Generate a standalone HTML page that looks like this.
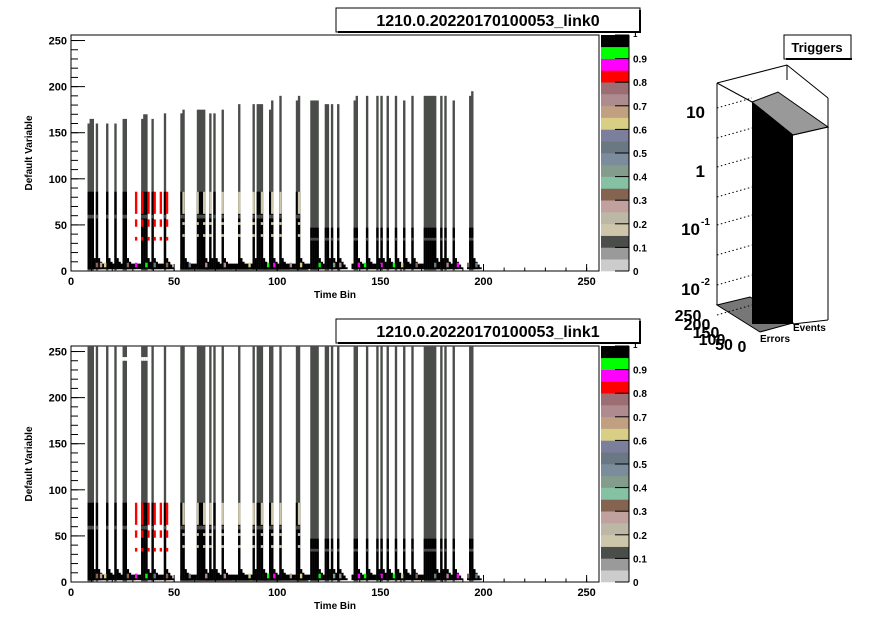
<!DOCTYPE html>
<html><head><meta charset="utf-8"><style>
body{margin:0;background:#fff;font-family:"Liberation Sans",Arial,sans-serif}
svg{display:block}
text{font-family:"Liberation Sans",Arial,sans-serif;font-weight:bold}
</style></head><body>
<svg id="c" width="896" height="622" viewBox="0 0 896 622"></svg>
<script>
// ----- data -----
const colBins=[8,9,10,12,17,21,25,26,34,35,36,39,45,53,54,61,62,63,64,67,69,73,81,88,90,91,92,96,97,101,109,110,116,117,118,119,123,124,126,129,137,138,143,148,150,153,157,161,165,171,172,173,174,175,176,179,181,185,193,194];
const colHeights=[160,165,165,160,160,160,165,165,165,170,170,165,171,171,175,175,175,175,175,171,171,175,181,181,181,181,181,175,185,190,185,190,185,185,185,185,181,181,181,181,185,190,190,190,190,190,190,185,190,190,190,190,190,190,190,190,190,185,190,195];
const redBins=[31,34,37,40,43,46];
const beigeBins=[54,61,64,67,73,81,88,92,97,101,110];
const lowColorBins=[12,14,16,27,31,36,40,46,57,65,74,86,95,98,106,111,120,127,130,139,142,150,156,160,167,176,182,187,192,196];
const lowColorVals=[0.3,0.25,0.6,0.3,0.85,0.9,0.5,0.3,0.5,0.7,0.7,0.6,0.9,0.85,0.7,0.6,0.9,0.4,0.7,0.85,0.9,0.85,0.9,0.6,0.3,0.5,0.7,0.85,0.3,0.5];
const stairHeights=[14,10,7,4];
const paletteTicks=["0","0.1","0.2","0.3","0.4","0.5","0.6","0.7","0.8","0.9","1"];
const xTicks=[0,50,100,150,200,250];
const yTicks=[0,50,100,150,200,250];
const palette=["#cccccc","#9a9a9a","#4a4d4a","#cdc6ab","#bdb8a6","#c0a19e","#846450","#84c2a3","#849c8b","#7b8c9c","#6a7883","#7b7f9c","#d8cf85","#c0a080","#ad8b8f","#9c6e73","#ff0000","#ff00ff","#00ff00","#000000"];
const trigLabels=["10","1","10","10"];
const trigExp=["","","-1","-2"];

const NS="http://www.w3.org/2000/svg";
const svg=document.getElementById('c');
function el(t,a,p){const e=document.createElementNS(NS,t);for(const k in a)e.setAttribute(k,a[k]);(p||svg).appendChild(e);return e;}
function colorOf(v){return palette[Math.min(19,Math.floor(v*20))];}

function drawPlot(top,full,name,title){
  const x0=71,x1=599,yb=top+236,yt=top;
  const g=el('g',{});
  
  
  const X=b=>x0+b*(x1-x0)/256;
  const Y=v=>yb-v*(yb-yt)/256;
  const bw=(x1-x0)/256;
  function cell(b,v0,v1,c){el('rect',{x:X(b),y:Y(v1),width:bw+0.3,height:Y(v0)-Y(v1),fill:c},g);}
  el('rect',{x:x0,y:yt,width:x1-x0,height:yb-yt,fill:'#fff',stroke:'#000'},g);
  // base strips
  for(let b=8;b<196;b++){ if((b>47&&b<53)||(b>130&&b<136)||(b>187&&b<192)) continue; cell(b,2,8,'#000'); }
  for(let b=53;b<115;b++) cell(b,0,2,'#4a4d4a');
  colBins.forEach((b,i)=>{
    stairHeights.forEach((h,k)=>cell(b+k+1,2,h,'#000'));
  });
  colBins.forEach((b,i)=>{
    const h=full?256:colHeights[i];
    const midTop=b<113?86:47;
    cell(b,0,h,'#4a4d4a');
    cell(b,2,midTop,'#000');
    if(b<113){cell(b,57,61,'#4a4d4a');}else{cell(b,33,36,'#4a4d4a');}
    if(beigeBins.includes(b)){cell(b,62,86,'#cdc6ab');cell(b,37,40,'#cdc6ab');cell(b,50,53,'#cdc6ab');}
    if(full&&b>=25&&b<=36){cell(b,240,244,'#fff');}
  });
  redBins.forEach(b=>{cell(b,62,86,'#ff0000');cell(b,48,56,'#ff0000');cell(b,33,37,'#ff0000');});
  lowColorBins.forEach((b,i)=>cell(b,4,9,colorOf(lowColorVals[i])));
  // axes ticks
  xTicks.forEach(t=>{el('line',{x1:X(t),x2:X(t),y1:yb,y2:yb-7,stroke:'#000'},g);
    const tx=el('text',{x:X(t),y:yb+14,'font-size':11,'text-anchor':'middle'},g);tx.textContent=t;});
  for(let t=0;t<=256;t+=10){el('line',{x1:X(t),x2:X(t),y1:yb,y2:yb-3.5,stroke:'#000'},g);}
  yTicks.forEach(t=>{el('line',{x1:x0,x2:x0+14,y1:Y(t),y2:Y(t),stroke:'#000'},g);
    const tx=el('text',{x:x0-4,y:Y(t)+4,'font-size':11,'text-anchor':'end'},g);tx.textContent=t;});
  for(let t=0;t<=256;t+=10){el('line',{x1:x0,x2:x0+7,y1:Y(t),y2:Y(t),stroke:'#000'},g);}
  const xl=el('text',{x:335,y:yb+27,'font-size':10,'text-anchor':'middle'},g);xl.textContent='Time Bin';
  
  const yl=el('text',{x:0,y:0,'font-size':10,'text-anchor':'middle',transform:`translate(32,${(yt+yb)/2}) rotate(-90)`},g);yl.textContent='Default Variable';
  
  // palette
  const pg=el('g',{},g);
  
  const ph=(yb-yt)/20;
  palette.forEach((c,i)=>el('rect',{x:601,y:yb-(i+1)*ph,width:28,height:ph+0.3,fill:c},pg));
  el('line',{x1:629,x2:629,y1:yt,y2:yb,stroke:'#000'},pg);
  paletteTicks.forEach((t,i)=>{const yy=yb-i*(yb-yt)/10;
    el('line',{x1:615,x2:629,y1:yy,y2:yy,stroke:'#000'},pg);
    const tx=el('text',{x:633,y:yy+(i==10?2:4),'font-size':(i==10?8:10)},pg);tx.textContent=t;});
  // title
  const tb=el('g',{});
  el('rect',{x:336,y:top-27,width:304,height:24,fill:'#fff',stroke:'#000'},tb);
  el('rect',{x:338,y:top-4,width:303,height:2,fill:'#000'},tb);
  el('line',{x1:640,x2:640,y1:top-25,y2:top-3,stroke:'#000','stroke-width':2},tb);
  const tt=el('text',{x:488,y:top-9,'font-size':16,'text-anchor':'middle'},tb);tt.textContent=title;
}
drawPlot(35,false,'heatmap-link0','1210.0.20220170100053_link0');
drawPlot(346,true,'heatmap-link1','1210.0.20220170100053_link1');

// Triggers 3D
const tg=el('g',{});

el('rect',{x:784,y:35,width:67,height:24,fill:'#fff',stroke:'#000'},tg);
el('rect',{x:786,y:58,width:66,height:2,fill:'#000'},tg);
const tt=el('text',{x:817,y:52,'font-size':13,'text-anchor':'middle'},tg);tt.textContent='Triggers';
const ln=(a,b,c,d,dash)=>el('line',{x1:a,y1:b,x2:c,y2:d,stroke:'#000','stroke-dasharray':dash||''},tg);
ln(717,83,787,65);ln(787,65,828,98);ln(717,83,717,305);ln(828,98,828,320);ln(787,65,787,80);
ln(717,83,752,102);
el('polygon',{points:'717,305 750,297 793,323 760,332',fill:'#777',stroke:'#000'},tg);
el('rect',{x:752,y:102,width:41,height:222,fill:'#000'},tg);
el('polygon',{points:'752,102 778,92 828,127 793,135',fill:'#999',stroke:'#000'},tg);
ln(793,135,828,127);ln(793,324,828,320);
const ly=[111,170,228,288];
ly.forEach((y,i)=>{ln(717,y-3,752,y-13,'1.5,2.5');ln(717,y+27,752,y+17,'1.5,2.5');
  const t=el('text',{x:i<2?705:700,y:y+7,'font-size':17,'text-anchor':'end'},tg);t.textContent=trigLabels[i];
  if(trigExp[i]){const s=el('text',{x:701,y:y-3,'font-size':10},tg);s.textContent=trigExp[i];}});
const e1=el('text',{x:793,y:331,'font-size':10},tg);e1.textContent='Events';
const e2=el('text',{x:760,y:342,'font-size':10},tg);e2.textContent='Errors';
[['250',688,321],['200',697,330],['150',706,338],['100',712,345],['50',724,350],['0',742,352]].forEach(a=>{
  const t=el('text',{x:a[1],y:a[2],'font-size':16,'text-anchor':'middle'},tg);t.textContent=a[0];});
</script>
</body></html>
